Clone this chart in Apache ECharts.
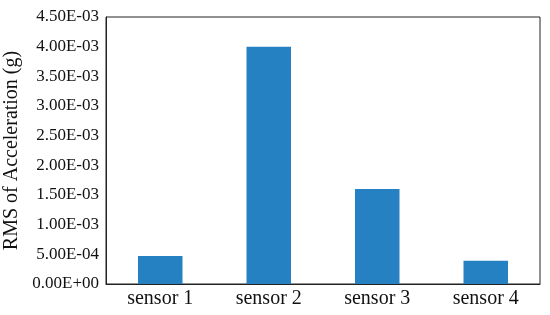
<!DOCTYPE html>
<html>
<head>
<meta charset="utf-8">
<script src="https://cdn.jsdelivr.net/npm/echarts@6/dist/echarts.min.js"></script>
<style>
  html, body { margin: 0; padding: 0; background: #fff; }
  #chart { width: 550px; height: 315px; }
</style>
</head>
<body>
<div id="chart"></div>
<script>
// sensors and their RMS acceleration (g)
var sensors = ['sensor 1', 'sensor 2', 'sensor 3', 'sensor 4'];
var rmsValues = [4.7e-4, 4.0e-3, 1.6e-3, 3.9e-4];

// 4.5e-3 -> "4.50E-03"
function sciLabel(v) {
    if (v === 0) return '0.00E+00';
    var parts = v.toExponential(2).split('e');
    var exp = parseInt(parts[1], 10);
    var sign = exp < 0 ? '-' : '+';
    var abs = Math.abs(exp);
    return parts[0] + 'E' + sign + (abs < 10 ? '0' + abs : abs);
}

var chart = echarts.init(document.getElementById('chart'));
var font = '"Liberation Serif", "Times New Roman", serif';

var option = {
    animation: false,
    grid: {
        left: 106, top: 17, right: 10, bottom: 31,
        outerBoundsMode: 'none',
        show: true, borderColor: '#222', borderWidth: 1
    },
    xAxis: {
        type: 'category',
        data: sensors,
        axisLine: { lineStyle: { color: '#222' } },
        axisTick: { show: false },
        axisLabel: { color: '#111', fontFamily: font, fontSize: 20, margin: 5 }
    },
    yAxis: {
        type: 'value',
        min: 0, max: 4.5e-3, interval: 5e-4,
        name: 'RMS of Acceleration (g)',
        nameLocation: 'middle',
        nameGap: 80,
        nameTextStyle: { color: '#111', fontFamily: font, fontSize: 20 },
        axisLine: { show: true, lineStyle: { color: '#222' } },
        axisTick: { show: false },
        splitLine: { show: false },
        axisLabel: {
            color: '#111', fontFamily: font, fontSize: 17, margin: 7,
            formatter: sciLabel
        }
    },
    series: [{
        type: 'bar',
        data: rmsValues,
        barWidth: '41%',
        itemStyle: { color: '#2681c2' }
    }]
};
chart.setOption(option);
</script>
</body>
</html>
